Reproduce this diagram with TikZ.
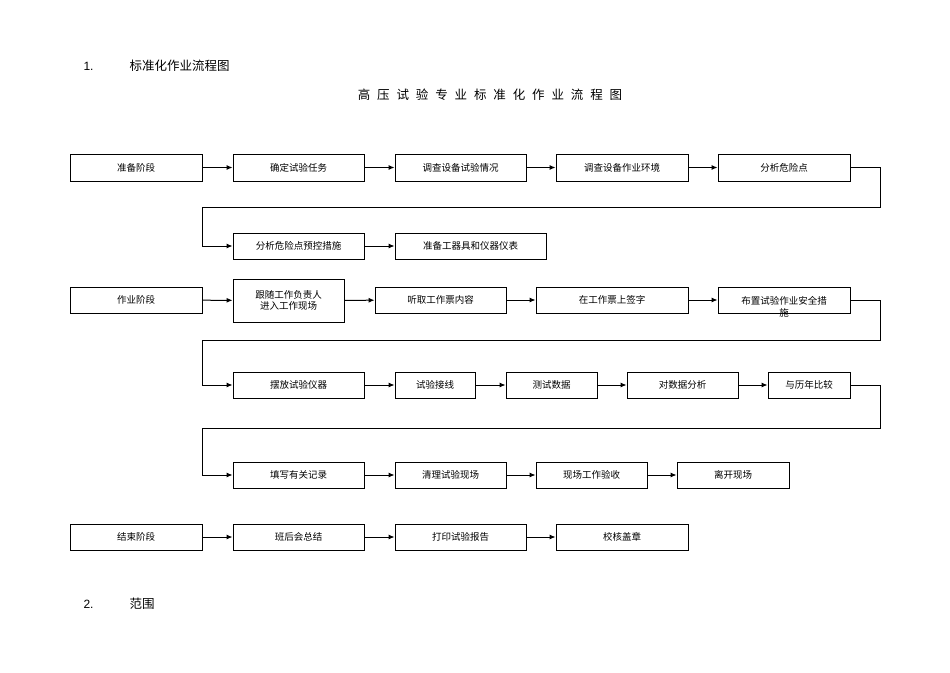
\documentclass[tikz,border=0pt]{standalone}
\usepackage{fontspec}
\setmainfont{Liberation Sans}
\newfontfamily\cjk{Noto Sans CJK SC}
\usetikzlibrary{arrows.meta}
\begin{document}
\begin{tikzpicture}[x=1pt,y=-1pt,
  bx/.style={draw,line width=0.9pt,font=\cjk\fontsize{9.5}{11}\selectfont,inner sep=0pt},
  ar/.style={line width=1pt,-{Latex[length=6pt,width=5pt]}},
  ln/.style={line width=0.9pt}]
\useasboundingbox (0,0) rectangle (950,672);
\newcommand\bb[6]{\node[bx,minimum width=#4-#3,minimum height=#6-#5] (#1) at ({(#3+#4)/2},{(#5+#6)/2}) {#2};}
\node[font=\fontsize{12}{14}\selectfont,anchor=west] (h1) at (80,66) {1.};
\node[font=\cjk\fontsize{12.5}{14}\selectfont,anchor=west] (h1t) at (126,66) {标准化作业流程图};
\node[font=\cjk\fontsize{12.5}{14}\selectfont] (title) at (490,95) {高\hspace{0.55em}压\hspace{0.55em}试\hspace{0.55em}验\hspace{0.55em}专\hspace{0.55em}业\hspace{0.55em}标\hspace{0.55em}准\hspace{0.55em}化\hspace{0.55em}作\hspace{0.55em}业\hspace{0.55em}流\hspace{0.55em}程\hspace{0.55em}图};
\node[font=\fontsize{12}{14}\selectfont,anchor=west] (h2) at (80,604) {2.};
\node[font=\cjk\fontsize{12.5}{14}\selectfont,anchor=west] (h2t) at (126,604) {范围};
% row1
\bb{a1}{准备阶段}{70}{202}{154}{181}
\bb{a2}{确定试验任务}{233}{364}{154}{181}
\bb{a3}{调查设备试验情况}{395}{526}{154}{181}
\bb{a4}{调查设备作业环境}{556}{688}{154}{181}
\bb{a5}{分析危险点}{718}{850}{154}{181}
\bb{b1}{分析危险点预控措施}{233}{364}{233}{259}
\bb{b2}{准备工器具和仪器仪表}{395}{546}{233}{259}
% row3
\bb{c1}{作业阶段}{70}{202}{287}{313}
\node[bx,minimum width=111,minimum height=43,align=center] (c2) at (288.5,300.5) {跟随工作负责人\\进入工作现场};
\bb{c3}{听取工作票内容}{375}{506}{287}{313}
\bb{c4}{在工作票上签字}{536}{688}{287}{313}
\node[bx,minimum width=132,minimum height=26] (c5) at (784,300) {};
\node[font=\cjk\fontsize{9.5}{12}\selectfont,align=center] (c5t) at (784,307) {布置试验作业安全措\\施};
% row4
\bb{d1}{摆放试验仪器}{233}{364}{372}{398}
\bb{d2}{试验接线}{395}{475}{372}{398}
\bb{d3}{测试数据}{506}{597}{372}{398}
\bb{d4}{对数据分析}{627}{738}{372}{398}
\bb{d5}{与历年比较}{768}{850}{372}{398}
% row5
\bb{e1}{填写有关记录}{233}{364}{462}{488}
\bb{e2}{清理试验现场}{395}{506}{462}{488}
\bb{e3}{现场工作验收}{536}{647}{462}{488}
\bb{e4}{离开现场}{677}{789}{462}{488}
% row6
\bb{f1}{结束阶段}{70}{202}{524}{550}
\bb{f2}{班后会总结}{233}{364}{524}{550}
\bb{f3}{打印试验报告}{395}{526}{524}{550}
\bb{f4}{校核盖章}{556}{688}{524}{550}
\foreach \p/\q in {a1/a2,a2/a3,a3/a4,a4/a5,b1/b2,c1/c2,c2/c3,c3/c4,c4/c5,d1/d2,d2/d3,d3/d4,d4/d5,e1/e2,e2/e3,e3/e4,f1/f2,f2/f3,f3/f4}
  \draw[ar] (\p) -- (\q);
\draw[ar] (a5.east) -- (880,167.5) -- (880,207) -- (202,207) |- (b1.west);
\draw[ar] (c5.east) -- (880,300) -- (880,340) -- (202,340) |- (d1.west);
\draw[ar] (d5.east) -- (880,385) -- (880,428) -- (202,428) |- (e1.west);
\end{tikzpicture}
\end{document}
